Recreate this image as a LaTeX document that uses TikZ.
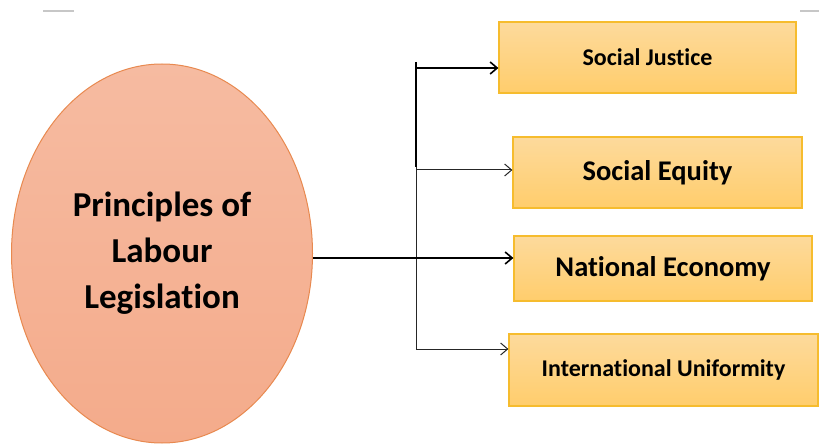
\documentclass[tikz,border=0pt]{standalone}
\usepackage{fontspec}
\setmainfont{Carlito}[Ligatures=NoCommon]
\usepackage{tikz}
\usetikzlibrary{arrows.meta,shapes.geometric}

\definecolor{salmon}{HTML}{F6BBA1}
\definecolor{salmonlow}{HTML}{F4AB8B}
\definecolor{salmonedge}{HTML}{E8894F}
\definecolor{boxfill}{HTML}{FDDA9C}
\definecolor{boxlow}{HTML}{FFCD6C}
\definecolor{boxedge}{HTML}{F6BC2E}

\begin{document}
\begin{tikzpicture}[x=1pt,y=-1pt,
    principle/.style={draw=boxedge, line width=1.2pt, top color=boxfill, bottom color=boxlow,
      inner sep=0pt, font=\bfseries},
    link/.style={-{Straight Barb[length=7pt,width=12pt]}, line width=1pt, black!85},
    mainlink/.style={-{Straight Barb[length=7pt,width=12pt]}, line width=1.6pt, black}]
    \useasboundingbox (0,0) rectangle (819,446);
    \draw[black!22, line width=1.2pt] (43,11) -- (74,11);
    \draw[black!22, line width=1.2pt] (800,11) -- (819,11);
    \node[ellipse, draw=salmonedge, line width=1pt, top color=salmon, bottom color=salmonlow,
      minimum width=301pt, minimum height=379pt, inner sep=0pt, align=center,
      font=\fontsize{35}{46}\selectfont\bfseries] (core) at (162,253.5)
      {Principles of\\Labour\\Legislation};
    \node[principle, minimum width=297pt, minimum height=71pt, font=\fontsize{24}{28}\selectfont\bfseries]
      (justice) at (647.5,57.5) {Social Justice};
    \node[principle, minimum width=289pt, minimum height=71pt, font=\fontsize{28.5}{32}\selectfont\bfseries]
      (equity) at (657.5,172.5) {Social Equity};
    \node[principle, minimum width=298pt, minimum height=65pt, font=\fontsize{28.5}{32}\selectfont\bfseries]
      (economy) at (663,268.5) {National Economy};
    \node[principle, minimum width=309pt, minimum height=72pt, font=\fontsize{24}{28}\selectfont\bfseries]
      (uniform) at (663.5,370) {International Uniformity};
    \coordinate (top) at (416,62);
    \coordinate (mid) at (416,167);
    \coordinate (low) at (416,349);
    \draw[line width=1.8pt] (top) -- (mid);
    \draw[line width=1pt, black!85] (mid) -- (low);
    \draw[mainlink] (core.east |- economy.west) ++(0,-10.5) coordinate (out) -- (economy.west |- out);
    \draw[mainlink] (416,68) coordinate (j) -- (justice.west |- j);
    \draw[link] (416,170) coordinate (e) -- (equity.west |- e);
    \draw[link] (low) -- (uniform.west |- low);
  \end{tikzpicture}
\end{document}
